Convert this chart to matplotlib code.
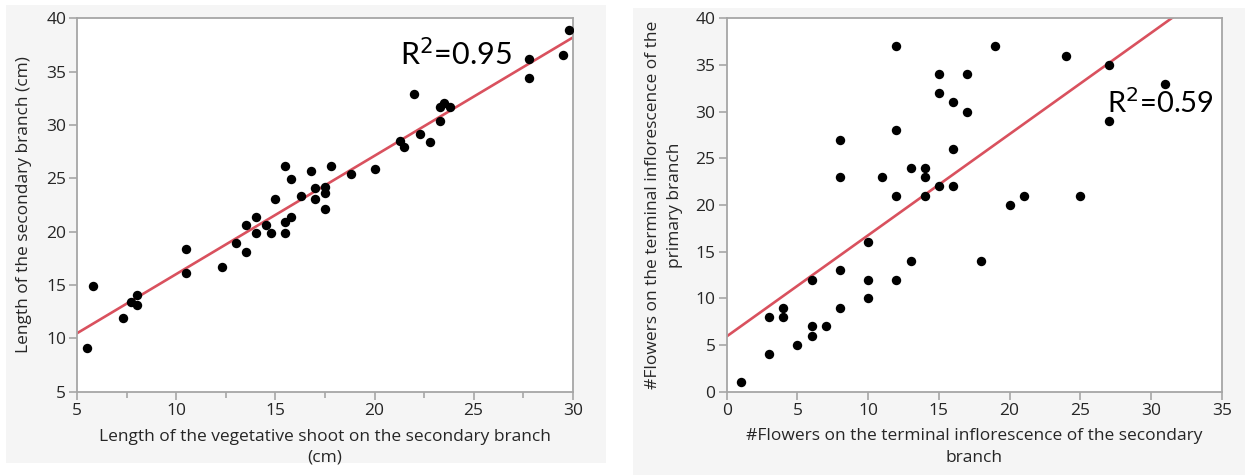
import numpy as np
import matplotlib
matplotlib.use("Agg")
import matplotlib.pyplot as plt
from matplotlib.patches import Rectangle
from matplotlib.ticker import MultipleLocator

plt.rcParams['font.family'] = ['Open Sans', 'DejaVu Sans']

# left panel: vegetative shoot length vs secondary branch length (cm)
shoot_len = [5.5, 5.8, 7.3, 7.7, 8.0, 8.0, 10.5, 10.5, 12.3, 13.0, 13.5, 13.5,
             14.0, 14.0, 14.5, 14.8, 15.0, 15.5, 15.5, 15.5, 15.8, 15.8, 16.3,
             16.8, 17.0, 17.0, 17.5, 17.5, 17.5, 17.8, 18.8, 20.0, 21.3, 21.5,
             22.0, 22.3, 22.8, 23.3, 23.3, 23.5, 23.8, 27.8, 27.8, 29.5, 29.8]
branch_len = [9.1, 14.9, 11.9, 13.4, 14.1, 13.1, 18.4, 16.1, 16.7, 18.9, 20.6, 18.1,
              21.4, 19.9, 20.6, 19.9, 23.1, 26.2, 20.9, 19.9, 24.9, 21.4, 23.3,
              25.7, 24.1, 23.1, 24.2, 23.6, 22.1, 26.2, 25.4, 25.9, 28.5, 27.9,
              32.9, 29.2, 28.4, 30.4, 31.7, 32.1, 31.7, 36.2, 34.4, 36.6, 38.9]

# right panel: flowers on secondary vs primary branch inflorescence
flowers_sec = [1, 3, 3, 4, 4, 5, 6, 6, 6, 7, 8, 8, 8, 8, 10, 10, 10, 11, 12, 12,
               12, 12, 13, 13, 14, 14, 14, 15, 15, 15, 16, 16, 16, 17, 17, 18,
               19, 20, 21, 24, 25, 27, 27, 31]
flowers_pri = [1, 4, 8, 8, 9, 5, 6, 7, 12, 7, 9, 13, 23, 27, 10, 12, 16, 23, 12, 21,
               28, 37, 14, 24, 21, 23, 24, 22, 32, 34, 22, 26, 31, 30, 34, 14,
               37, 20, 21, 36, 21, 29, 35, 33]

r2_labels = ["R$^2$=0.95", "R$^2$=0.59"]

bg = "#f5f5f5"
spine_col = "#a6a6a6"
line_col = "#d9515e"
txt_col = "#262626"

fig = plt.figure(figsize=(12.45, 4.75), dpi=100)
fig.patch.set_facecolor("white")
fig.add_artist(Rectangle((6 / 1245, 1 - 463 / 475), 600 / 1245, 458 / 475,
                         transform=fig.transFigure, facecolor=bg, edgecolor="none", zorder=0))
fig.add_artist(Rectangle((633 / 1245, 0), 612 / 1245, 1 - 8 / 475,
                         transform=fig.transFigure, facecolor=bg, edgecolor="none", zorder=0))

ax1 = fig.add_axes([77.3 / 1245, 1 - 391.7 / 475, 495.4 / 1245, 373.4 / 475])
ax2 = fig.add_axes([726.7 / 1245, 1 - 391.5 / 475, 495 / 1245, 373.2 / 475])


def style(ax):
    ax.set_facecolor("white")
    for s in ax.spines.values():
        s.set_color(spine_col)
        s.set_linewidth(1.3)
    ax.tick_params(which="both", colors=spine_col, labelcolor=txt_col, labelsize=12.5,
                   width=1.2, pad=2)
    ax.tick_params(which="major", length=6)
    ax.tick_params(which="minor", length=4)


# left
ax1.scatter(shoot_len, branch_len, s=46, color="black", zorder=3, linewidths=0)
k, b = np.polyfit(shoot_len, branch_len, 1)
xs = np.array([5, 30])
ax1.plot(xs, k * xs + b, color=line_col, lw=1.9, zorder=2)
ax1.set_xlim(5, 30)
ax1.set_ylim(5, 40)
ax1.xaxis.set_major_locator(MultipleLocator(5))
ax1.xaxis.set_minor_locator(MultipleLocator(2.5))
ax1.yaxis.set_major_locator(MultipleLocator(5))
style(ax1)
ax1.set_xlabel("Length of the vegetative shoot on the secondary branch\n(cm)",
               fontsize=12.5, color=txt_col, labelpad=7, linespacing=1.45)
ax1.set_ylabel("Length of the secondary branch (cm)", fontsize=12.5, color=txt_col, labelpad=10)
ax1.text(21.3, 35.6, r2_labels[0], fontsize=22, family=["Lato", "DejaVu Sans"],
         color="black", zorder=4)

# right
ax2.scatter(flowers_sec, flowers_pri, s=46, color="black", zorder=3, linewidths=0)
k2, b2 = np.polyfit(flowers_sec, flowers_pri, 1)
xs2 = np.array([0, 35])
ax2.plot(xs2, k2 * xs2 + b2, color=line_col, lw=1.9, zorder=2)
ax2.set_xlim(0, 35)
ax2.set_ylim(0, 40)
ax2.xaxis.set_major_locator(MultipleLocator(5))
ax2.yaxis.set_major_locator(MultipleLocator(5))
style(ax2)
ax2.set_xlabel("#Flowers on the terminal inflorescence of the secondary\nbranch",
               fontsize=12.5, color=txt_col, labelpad=7, linespacing=1.45)
ax2.set_ylabel("#Flowers on the terminal inflorescence of the\nprimary branch",
               fontsize=12.5, color=txt_col, labelpad=9, linespacing=1.5)
ax2.text(26.9, 29.8, r2_labels[1], fontsize=21, family=["Lato", "DejaVu Sans"],
         color="black", zorder=4)

fig.savefig("out.png", dpi=100)
